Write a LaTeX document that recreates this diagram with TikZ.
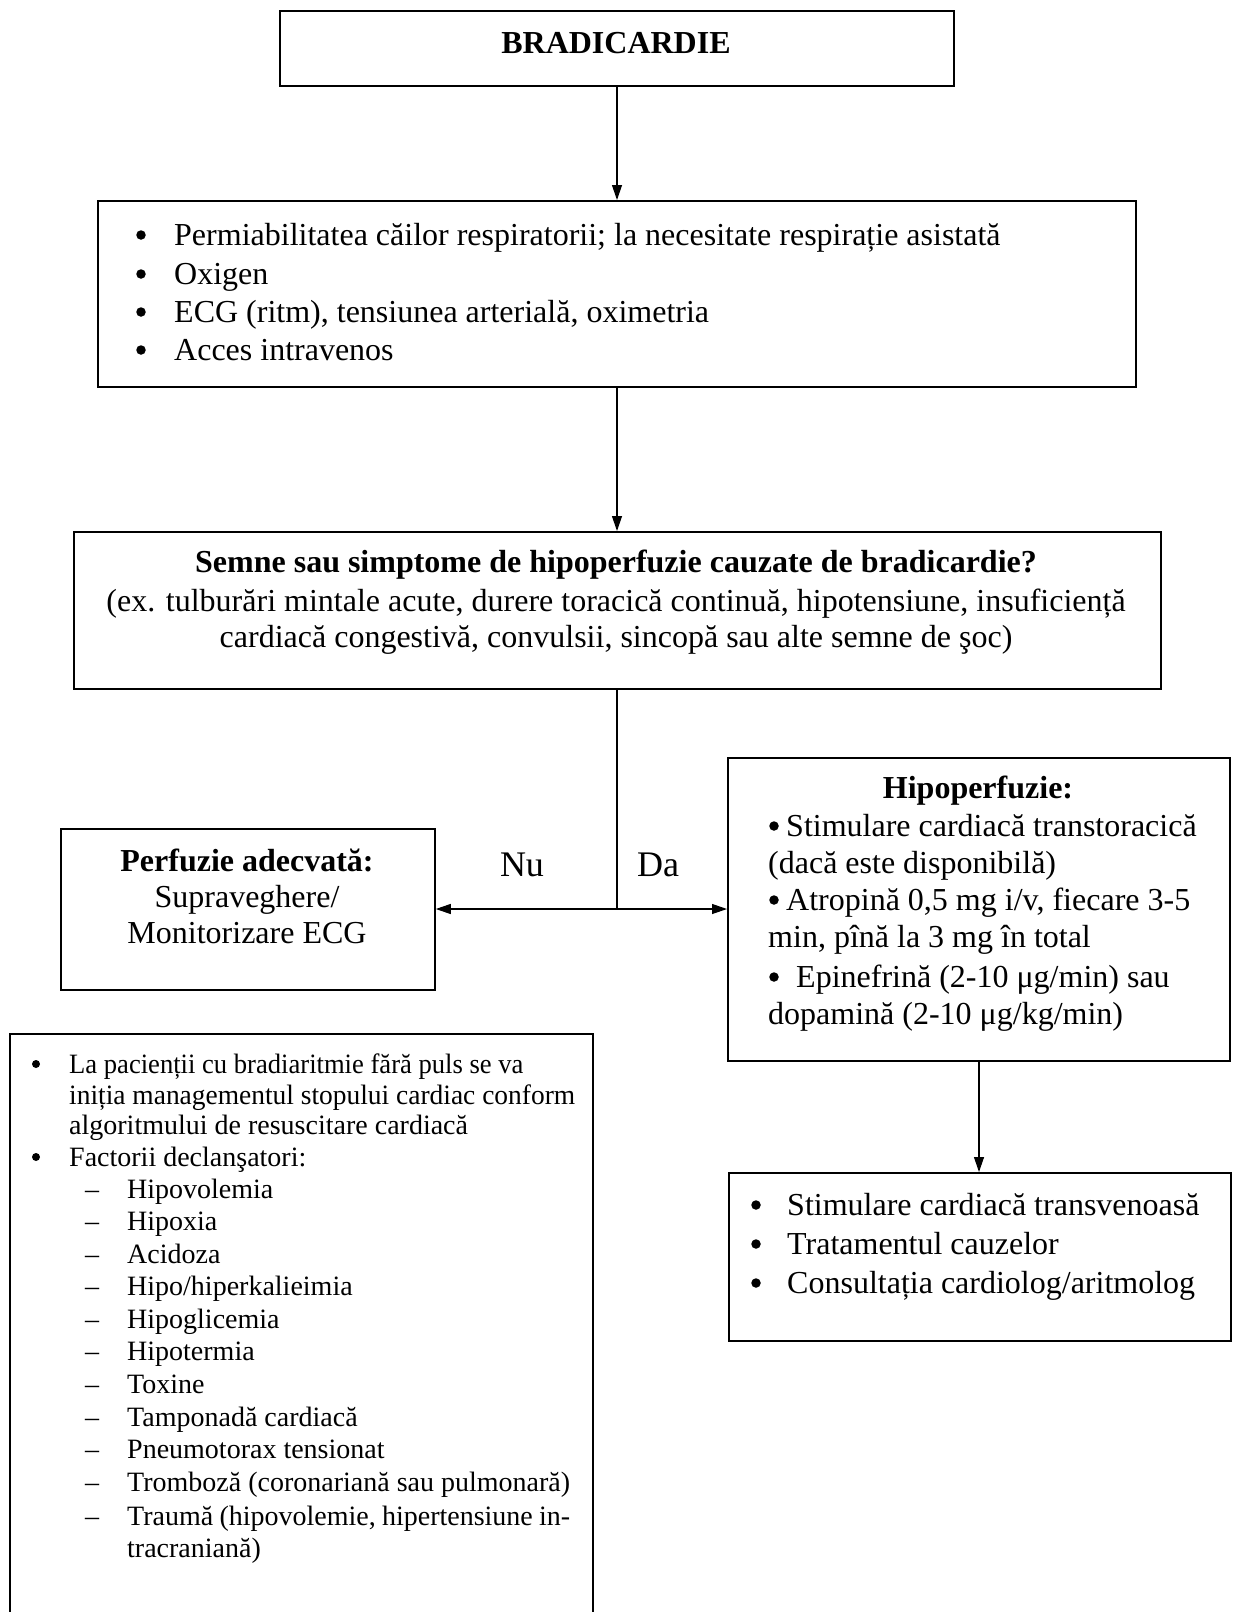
\documentclass[tikz,border=0pt]{standalone}
\usepackage{fontspec}
\setmainfont{Liberation Serif}
\usetikzlibrary{arrows.meta}
\begin{document}
\begin{tikzpicture}[x=1pt,y=-1pt,
  box/.style={draw, line width=1.8pt, rectangle, inner sep=0pt, anchor=north west},
  conn/.style={line width=1.2pt},
  arr/.style={conn, -{Triangle[length=15pt,width=10pt]}},
  tl/.style={inner sep=0pt, anchor=base west, font=\fontsize{32}{38}\selectfont},
  tc/.style={inner sep=0pt, anchor=base, font=\fontsize{32}{38}\selectfont},
  tb/.style={inner sep=0pt, anchor=base, font=\fontsize{32}{38}\selectfont\bfseries},
  bul/.style={circle, fill, inner sep=0pt, minimum size=9.5pt},
  sbul/.style={circle, fill, inner sep=0pt, minimum size=8pt},
  sl/.style={inner sep=0pt, anchor=base west, font=\fontsize{28}{33}\selectfont},
  lab/.style={inner sep=0pt, anchor=base, font=\fontsize{36}{40}\selectfont}
]
\useasboundingbox (0,0) rectangle (1232,1612);
\fill[white] (0,0) rectangle (1232,1612);

% boxes
\node[box, minimum width=674pt, minimum height=75pt] (b1) at (279,10) {};
\node[box, minimum width=1038pt, minimum height=186pt] (b2) at (97,200) {};
\node[box, minimum width=1087pt, minimum height=157pt] (b3) at (73,531) {};
\node[box, minimum width=374pt, minimum height=161pt] (b4) at (60,828) {};
\node[box, minimum width=502pt, minimum height=303pt] (b5) at (727,757) {};
\node[box, minimum width=583pt, minimum height=600pt] (b6) at (9,1033) {};
\node[box, minimum width=502pt, minimum height=168pt] (b7) at (728,1172) {};

% title
\node[tb] (t1) at (616,53) {BRADICARDIE};

% box 2
\foreach \i/\yy/\tt in {1/245/{Permiabilitatea căilor respiratorii; la necesitate respirație asistată},
                        2/284/{Oxigen},
                        3/322/{ECG (ritm), tensiunea arterială, oximetria},
                        4/360/{Acces intravenos}}{
  \node[bul] (b2d\i) at (141,\yy-10) {};
  \node[tl] (b2t\i) at (174,\yy) {\tt};
}

% box 3
\node[tb] (b3t1) at (616,572) {Semne sau simptome de hipoperfuzie cauzate de bradicardie?};
\node[tc] (b3t2) at (616,611) {(ex. tulburări mintale acute, durere toracică continuă, hipotensiune, insuficiență};
\node[tc] (b3t3) at (616,647) {cardiacă congestivă, convulsii, sincopă sau alte semne de şoc)};

% box 4
\node[tb] (b4t1) at (247,871) {Perfuzie adecvată:};
\node[tc] (b4t2) at (247,907) {Supraveghere/};
\node[tc] (b4t3) at (247,943) {Monitorizare ECG};

% box 5
\node[tb] (b5t0) at (978,798) {Hipoperfuzie:};
\node[bul] (b5d1) at (774,826) {};
\node[tl] (b5t1) at (786,836) {Stimulare cardiacă transtoracică};
\node[tl] (b5t2) at (768,873) {(dacă este disponibilă)};
\node[bul] (b5d3) at (774,900) {};
\node[tl] (b5t3) at (786,910) {Atropină 0,5 mg i/v, fiecare 3-5};
\node[tl] (b5t4) at (768,947) {min, pînă la 3 mg în total};
\node[bul] (b5d5) at (774,977) {};
\node[tl] (b5t5) at (796,987) {Epinefrină (2-10 μg/min) sau};
\node[tl] (b5t6) at (768,1024) {dopamină (2-10 μg/kg/min)};

% box 7
\foreach \i/\yy/\tt in {1/1215/{Stimulare cardiacă transvenoasă},
                        2/1254/{Tratamentul cauzelor},
                        3/1293/{Consultația cardiolog/aritmolog}}{
  \node[bul] (b7d\i) at (756,\yy-10) {};
  \node[tl] (b7t\i) at (787,\yy) {\tt};
}

% box 6
\node[sbul] (b6d1) at (36,1064) {};
\node[sl] (b6a1) at (69,1073) {\scalebox{0.95}[1]{La pacienții cu bradiaritmie fără puls se va}};
\node[sl] (b6a2) at (69,1104) {\scalebox{0.98}[1]{iniția managementul stopului cardiac conform}};
\node[sl] (b6a3) at (69,1134) {algoritmului de resuscitare cardiacă};
\node[sbul] (b6d2) at (36,1157) {};
\node[sl] (b6b1) at (69,1166) {Factorii declanşatori:};
\foreach \i/\yy/\tt in {1/1198/{Hipovolemia},
                        2/1230/{Hipoxia},
                        3/1263/{Acidoza},
                        4/1295/{Hipo/hiperkalieimia},
                        5/1328/{Hipoglicemia},
                        6/1360/{Hipotermia},
                        7/1393/{Toxine},
                        8/1426/{Tamponadă cardiacă},
                        9/1458/{Pneumotorax tensionat},
                        10/1491/{Tromboză (coronariană sau pulmonară)}}{
  \node[sl] (b6m\i) at (85,\yy) {–};
  \node[sl] (b6c\i) at (127,\yy) {\tt};
}
\node[sl] (b6m11) at (85,1525) {–};
\node[sl] (b6c11) at (127,1525) {\hbox to 443pt{Traumă\hfill(hipovolemie,\hfill hipertensiune\hfill in-}};
\node[sl] (b6c12) at (127,1557) {tracraniană)};

% connectors
\coordinate (j) at (617,909);
\draw[arr] (b1.south -| j) -- (b2.north -| j);
\draw[arr] (b2.south -| j) -- (b3.north -| j);
\draw[conn] (b3.south -| j) -- (j);
\draw[arr] (j) -- (j -| b4.east);
\draw[arr] (j) -- (j -| b5.west);
\coordinate (k) at (979,0);
\draw[arr] (b5.south -| k) -- (b7.north -| k);

\node[lab] (nu) at (522,876) {Nu};
\node[lab] (da) at (658,876) {Da};
\end{tikzpicture}
\end{document}
